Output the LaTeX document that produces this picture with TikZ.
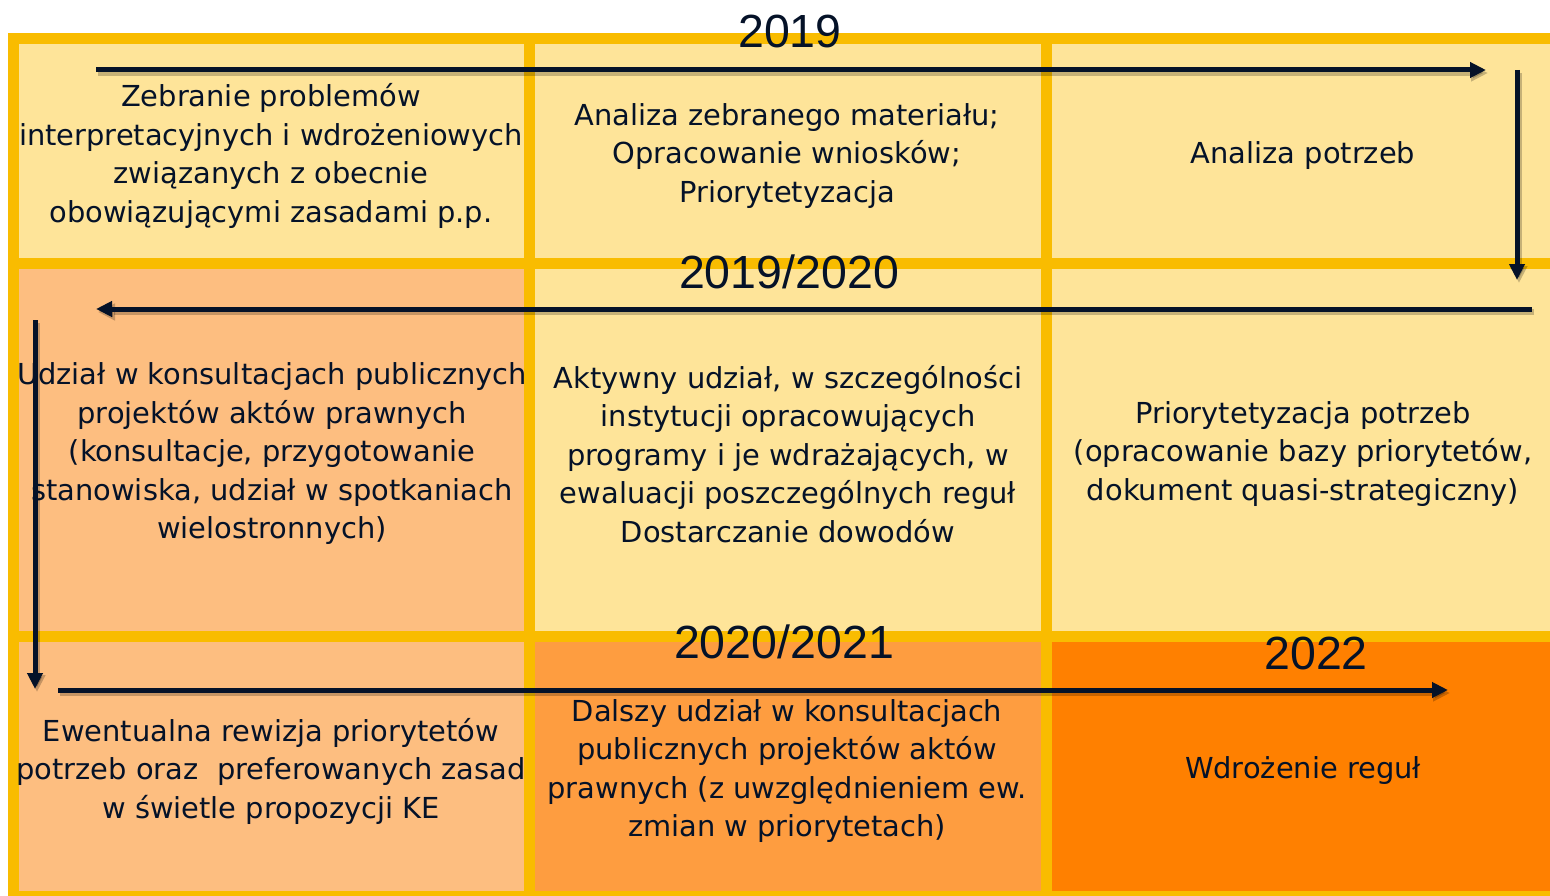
\documentclass[tikz,border=0pt]{standalone}
\usepackage{fontspec}
\setmainfont{DejaVu Sans}
\newfontfamily\yearfont{Liberation Sans}
\usetikzlibrary{arrows.meta}
\definecolor{lightY}{RGB}{254,228,153}
\definecolor{peach}{RGB}{253,190,128}
\definecolor{midOr}{RGB}{254,157,64}
\definecolor{darkOr}{RGB}{255,128,0}
\definecolor{gridY}{RGB}{249,188,0}
\definecolor{navy}{RGB}{5,18,40}
\tikzset{
  celltext/.style={align=center, text=navy, inner sep=0pt,
    font=\fontsize{28.9}{38.5}\selectfont},
  yeartext/.style={anchor=base, text=navy, inner sep=0pt,
    font=\yearfont\fontsize{46.5}{46.5}\selectfont},
  gridline/.style={draw=gridY, line width=11pt},
  flow/.style={draw=navy, line width=5pt, -{Triangle[length=16pt,width=15pt]}},
  flowshadow/.style={draw=black, opacity=0.22, line width=6pt, -{Triangle[length=17pt,width=16pt]}}
}
\begin{document}
\begin{tikzpicture}[x=1pt,y=-1pt]
\useasboundingbox (0,0) rectangle (1550,896);
\clip (0,0) rectangle (1550,896);
% cell fills
\fill[lightY] (13.5,39) rectangle (529.5,263.5);
\fill[lightY] (529.5,39) rectangle (1046,263.5);
\fill[lightY] (1046,39) rectangle (1560,263.5);
\fill[peach] (13.5,263.5) rectangle (529.5,636.5);
\fill[lightY] (529.5,263.5) rectangle (1046,636.5);
\fill[lightY] (1046,263.5) rectangle (1560,636.5);
\fill[peach] (13.5,636.5) rectangle (529.5,900);
\fill[midOr] (529.5,636.5) rectangle (1046,900);
\fill[darkOr] (1046,636.5) rectangle (1560,900);
% grid lines
\draw[gridline] (8,39) -- (1560,39);
\draw[gridline] (8,263.5) -- (1560,263.5);
\draw[gridline] (8,636.5) -- (1560,636.5);
\draw[gridline] (8,896) -- (1560,896);
\draw[gridline] (13.5,33.5) -- (13.5,902);
\draw[gridline] (529.5,33.5) -- (529.5,902);
\draw[gridline] (1046,33.5) -- (1046,902);
% cell texts
\node[celltext] (t11) at (271,156) {Zebranie problemów\\interpretacyjnych i wdrożeniowych\\związanych z obecnie\\obowiązującymi zasadami p.p.};
\node[celltext] (t12) at (787,156) {Analiza zebranego materiału;\\Opracowanie wniosków;\\Priorytetyzacja};
\node[celltext] (t13) at (1303,156) {Analiza potrzeb};
\node[celltext] (t21) at (272,454) {Udział w konsultacjach publicznych\\projektów aktów prawnych\\(konsultacje, przygotowanie\\stanowiska, udział w spotkaniach\\wielostronnych)};
\node[celltext] (t22) at (788,454) {Aktywny udział, w szczególności\\instytucji opracowujących\\programy i je wdrażających, w\\ewaluacji poszczególnych reguł\\Dostarczanie dowodów};
\node[celltext] (t23) at (1303,454) {Priorytetyzacja potrzeb\\(opracowanie bazy priorytetów,\\dokument quasi-strategiczny)};
\node[celltext] (t31) at (271,771) {Ewentualna rewizja priorytetów\\potrzeb oraz~ preferowanych zasad\\w świetle propozycji KE};
\node[celltext] (t32) at (787,771) {Dalszy udział w konsultacjach\\publicznych projektów aktów\\prawnych (z uwzględnieniem ew.\\zmian w priorytetach)};
\node[celltext] (t33) at (1303,771) {Wdrożenie reguł};
% year labels
\node[yeartext] (y1) at (790,48) {2019};
\node[yeartext] (y2) at (789,288) {2019/2020};
\node[yeartext] (y3) at (784,658) {2020/2021};
\node[yeartext] (y4) at (1316,669) {2022};
% arrow end points
\coordinate (a1s) at (96,70);   \coordinate (a1e) at (1486,70);
\coordinate (a2s) at (1517,70); \coordinate (a2e) at (1517,280);
\coordinate (a3s) at (1532,309);\coordinate (a3e) at (96,309);
\coordinate (a4s) at (35,320);  \coordinate (a4e) at (35,689);
\coordinate (a5s) at (58,690);  \coordinate (a5e) at (1448,690);
% shadows
\foreach \s/\e in {a1s/a1e,a2s/a2e,a3s/a3e,a4s/a4e,a5s/a5e}
  \draw[flowshadow] ([shift={(2,3)}]\s) -- ([shift={(2,3)}]\e);
% arrows
\draw[flow] (a1s) -- (a1e);
\draw[flow] (a2s) -- (a2e);
\draw[flow] (a3s) -- (a3e);
\draw[flow] (a4s) -- (a4e);
\draw[flow] (a5s) -- (a5e);
\end{tikzpicture}
\end{document}
